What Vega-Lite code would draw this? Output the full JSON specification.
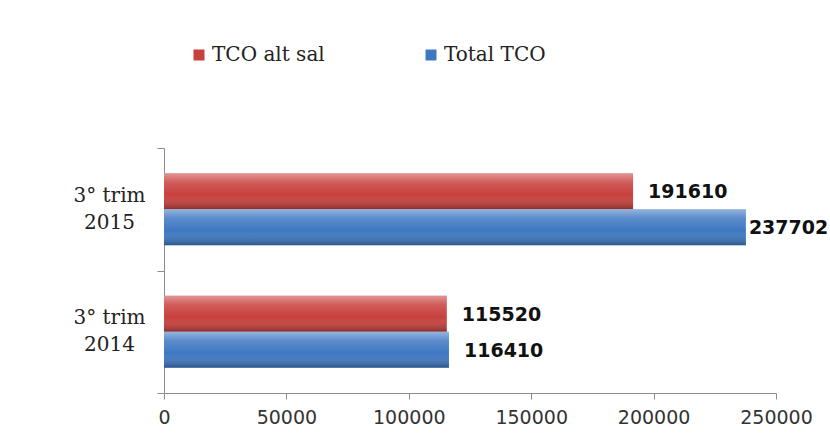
{
  "$schema": "https://vega.github.io/schema/vega-lite/v6.json",
  "autosize": {"type": "none"},
  "width": 612,
  "height": 245,
  "padding": {"left": 164, "top": 148, "right": 54, "bottom": 45},
  "background": "white",
  "config": {"view": {"stroke": null}},
  "data": {"values": [
    {"period": "3° trim 2015", "series": "TCO alt sal", "value": 191610},
    {"period": "3° trim 2015", "series": "Total TCO", "value": 237702},
    {"period": "3° trim 2014", "series": "TCO alt sal", "value": 115520},
    {"period": "3° trim 2014", "series": "Total TCO", "value": 116410}
  ]},
  "encoding": {
    "y": {
      "field": "period", "type": "nominal", "sort": ["3° trim 2015", "3° trim 2014"],
      "scale": {"paddingInner": 0, "paddingOuter": 0},
      "axis": {
        "title": null, "tickBand": "extent", "tickSize": 7, "domainColor": "#8c8c8c", "tickColor": "#8c8c8c",
        "labelFont": "DejaVu Serif", "labelFontSize": 20, "labelColor": "#222",
        "labelAlign": "center", "labelPadding": 48, "labelLineHeight": 27, "labelOffset": -14,
        "labelExpr": "[slice(datum.label, 0, 7), slice(datum.label, 8)]"
      }
    },
    "yOffset": {"field": "series", "type": "nominal", "sort": ["TCO alt sal", "Total TCO"], "scale": {"paddingInner": 0, "paddingOuter": 0.7}},
    "x": {
      "field": "value", "type": "quantitative",
      "scale": {"domain": [0, 250000], "nice": false},
      "axis": {
        "title": null, "values": [0, 50000, 100000, 150000, 200000, 250000], "grid": false, "format": "d",
        "tickSize": 6, "domainColor": "#8c8c8c", "tickColor": "#8c8c8c",
        "labelFont": "DejaVu Sans", "labelFontSize": 19, "labelColor": "#333", "labelPadding": 9,
        "labelFlush": false, "labelOverlap": false
      }
    }
  },
  "layer": [
    {
      "mark": {"type": "bar"},
      "encoding": {
        "color": {
          "field": "series", "type": "nominal", "sort": ["TCO alt sal", "Total TCO"],
          "scale": {"range": ["#C8403D", "#3E78C2"]},
          "legend": {
            "title": null, "orient": "none", "legendX": 25, "legendY": -103, "direction": "horizontal",
            "symbolType": "square", "symbolSize": 121, "symbolStrokeWidth": 0, "labelFont": "DejaVu Serif",
            "labelFontSize": 20, "labelColor": "#222", "labelOffset": 3, "columnPadding": 96
          }
        }
      }
    },
    {
      "mark": {
        "type": "bar",
        "fill": {
          "gradient": "linear", "x1": 0, "y1": 0, "x2": 0, "y2": 1,
          "stops": [
            {"offset": 0, "color": "rgba(255,255,255,0.45)"},
            {"offset": 0.25, "color": "rgba(255,255,255,0.15)"},
            {"offset": 0.6, "color": "rgba(255,255,255,0)"},
            {"offset": 1, "color": "rgba(0,0,0,0.3)"}
          ]
        }
      }
    },
    {
      "transform": [{"filter": "datum.value < 200000"}],
      "mark": {"type": "text", "align": "left", "baseline": "middle", "dx": 15, "dy": 1, "font": "DejaVu Sans", "fontSize": 19, "fontWeight": "bold", "color": "#111"},
      "encoding": {"text": {"field": "value", "type": "quantitative", "format": "d"}}
    },
    {
      "transform": [{"filter": "datum.value >= 200000"}],
      "mark": {"type": "text", "align": "left", "baseline": "middle", "dx": 3, "dy": 1, "font": "DejaVu Sans", "fontSize": 19, "fontWeight": "bold", "color": "#111"},
      "encoding": {"text": {"field": "value", "type": "quantitative", "format": "d"}}
    }
  ]
}
